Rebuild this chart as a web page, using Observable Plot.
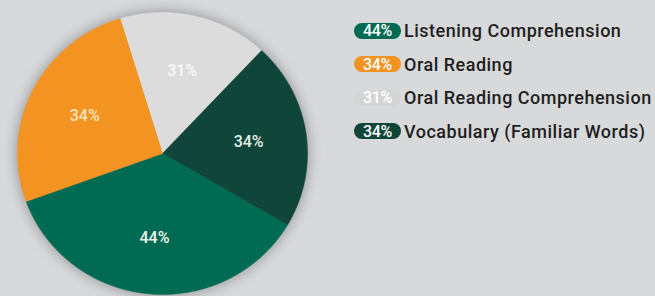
<!DOCTYPE html>
<html>
<head>
<meta charset="utf-8">
<script src="https://cdn.jsdelivr.net/npm/d3@7"></script>
<script src="https://cdn.jsdelivr.net/npm/@observablehq/plot@0.6"></script>
<style>
  html, body { margin: 0; padding: 0; background: #d8d9db; }
  body { width: 655px; height: 296px; overflow: hidden; position: relative; font-family: Roboto, "DejaVu Sans", sans-serif; }
  #chart { position: absolute; left: 0; top: 0; }
  #chart svg { background: transparent; }
  #chart svg g[aria-label="line"] { filter: drop-shadow(0 0 7px rgba(0,0,0,0.35)); }
  #legend { position: absolute; left: 354px; top: 14px; }
  .row { display: flex; align-items: center; height: 33.5px; }
  .pill { width: 47px; height: 16px; border-radius: 8px; color: #fff; font-size: 16px; font-weight: 500;
          display: flex; align-items: center; justify-content: center; letter-spacing: -0.4px; }
  .lab { margin-left: 3px; font-size: 18px; font-weight: 500; color: #1e1e1e; letter-spacing: 0.5px; }
</style>
</head>
<body>
<div id="chart"></div>
<div id="legend"></div>
<script>
// Categories in legend order
const categories = ["Listening Comprehension", "Oral Reading", "Oral Reading Comprehension", "Vocabulary (Familiar Words)"];
// Labelled percentages
const values = [44, 34, 31, 34];
// Share of the pie each wedge occupies as drawn in the picture (%)
const drawnShare = [36.0, 25.8, 16.7, 21.5];
const colors = ["#006b52", "#f39322", "#dcdcdc", "#10463a"];
const legendBadge = ["#006b52", "#f39322", "#d4d5d7", "#10463a"];
const labelColors = ["#eef3ee", "#fde3bd", "#f8f8f8", "#e6efe9"];
// Drawing order clockwise starting at the top-left wedge
const drawOrder = [2, 3, 0, 1];
const startDeg = -17;

const slices = drawOrder.map(i => ({cat: categories[i], value: values[i], share: drawnShare[i], color: colors[i], labelColor: labelColors[i]}));
const pie = d3.pie().sort(null).value(d => d.share)
  .startAngle(startDeg * Math.PI / 180).endAngle((startDeg + 360) * Math.PI / 180);
const arcs = pie(slices);

const pts = [];
const labels = [];
for (const a of arcs) {
  pts.push({cat: a.data.cat, x: 0, y: 0});
  const n = Math.max(2, Math.ceil((a.endAngle - a.startAngle) / 0.01));
  for (let k = 0; k <= n; k++) {
    const t = a.startAngle + (a.endAngle - a.startAngle) * k / n;
    pts.push({cat: a.data.cat, x: Math.sin(t), y: Math.cos(t)});
  }
  pts.push({cat: a.data.cat, x: 0, y: 0});
  const m = (a.startAngle + a.endAngle) / 2;
  labels.push({cat: a.data.cat, text: a.data.value + "%", x: 0.6 * Math.sin(m), y: 0.6 * Math.cos(m), color: a.data.labelColor});
}

const plot = Plot.plot({
  width: 330, height: 296,
  marginLeft: 17, marginRight: 23, marginTop: 12, marginBottom: 2,
  x: {domain: [-1, 1], axis: null},
  y: {domain: [-1, 1], axis: null},
  color: {domain: categories, range: colors},
  marks: [
    Plot.line(pts, {x: "x", y: "y", z: "cat", fill: "cat", stroke: "cat", strokeWidth: 0.5, curve: "linear"}),
    Plot.text(labels, {x: "x", y: "y", text: "text", fill: d => d.color, fontSize: 16, fontWeight: 500,
                        fontFamily: "Roboto, sans-serif"})
  ]
});
document.getElementById("chart").appendChild(plot);

const legend = document.getElementById("legend");
categories.forEach((c, i) => {
  const row = document.createElement("div"); row.className = "row";
  const pill = document.createElement("div"); pill.className = "pill";
  pill.style.background = legendBadge[i];
  pill.textContent = values[i] + "%";
  const lab = document.createElement("div"); lab.className = "lab"; lab.textContent = c;
  row.appendChild(pill); row.appendChild(lab); legend.appendChild(row);
});
</script>
</body>
</html>
